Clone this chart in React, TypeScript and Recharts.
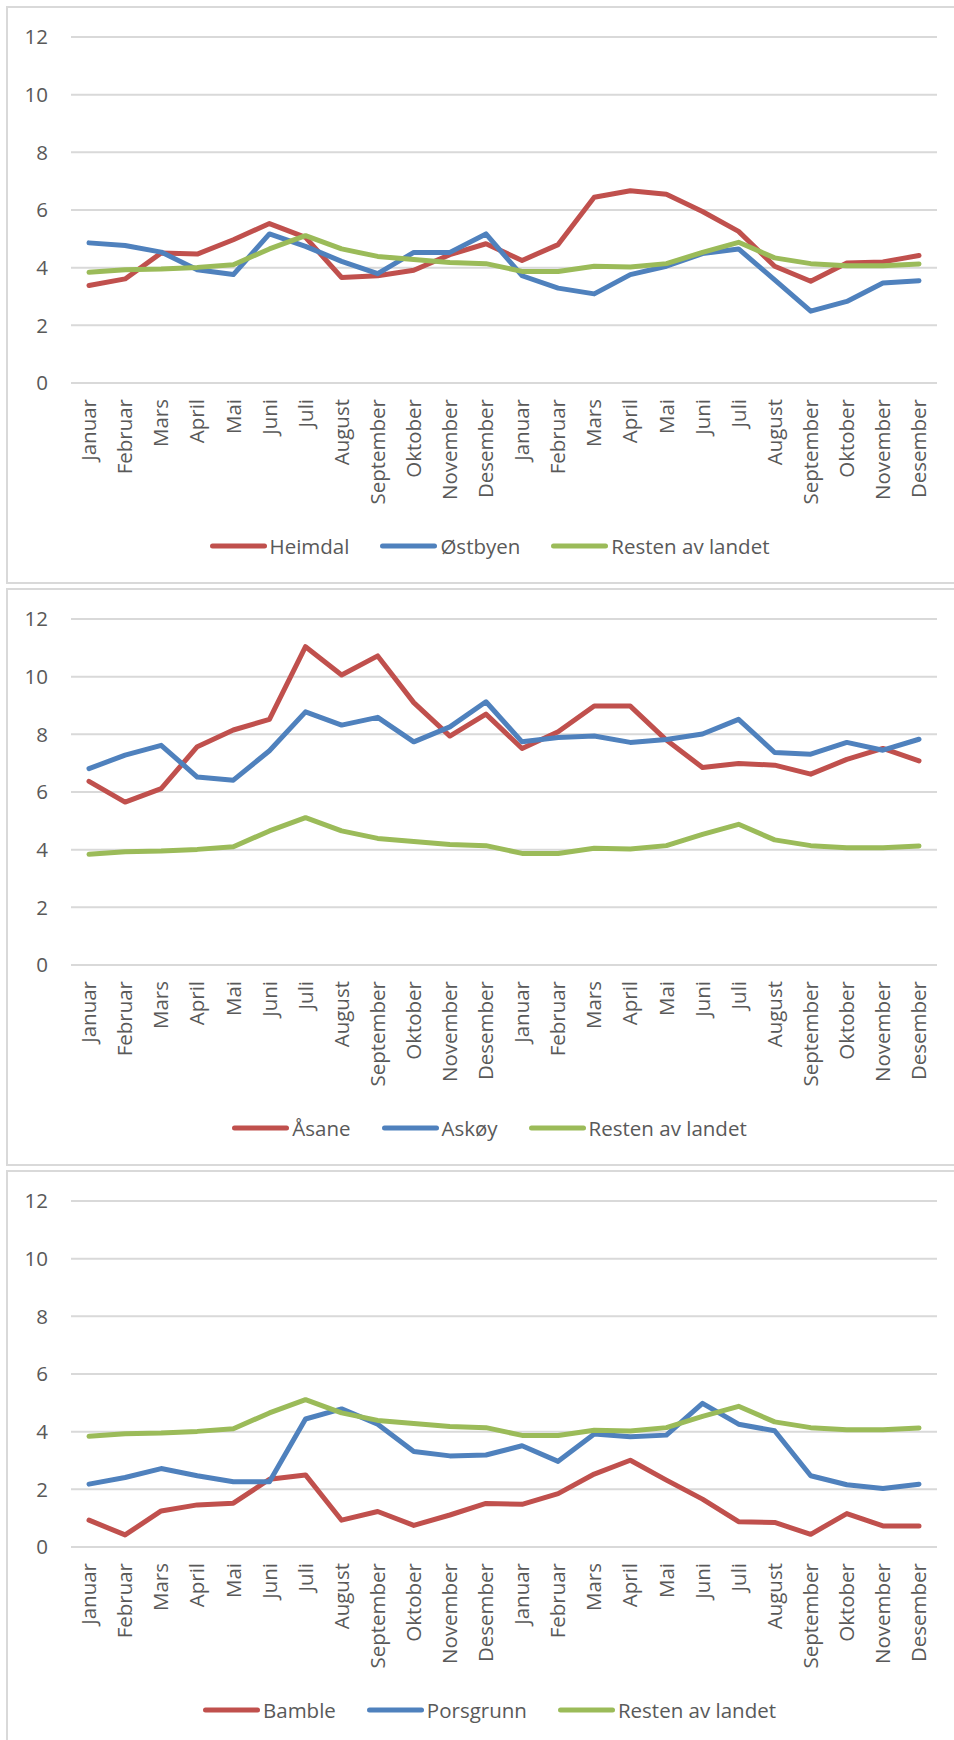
import { LineChart, Line, XAxis, YAxis, CartesianGrid } from "recharts";

const MONTHS = ["Januar", "Februar", "Mars", "April", "Mai", "Juni", "Juli", "August", "September", "Oktober", "November", "Desember"];
const CATEGORIES = [...MONTHS, ...MONTHS];
const Y_TICKS = [0, 2, 4, 6, 8, 10, 12];

const RESTEN = [3.84, 3.93, 3.95, 4.01, 4.1, 4.65, 5.11, 4.65, 4.39, 4.28, 4.18, 4.14, 3.87, 3.87, 4.05, 4.02, 4.14, 4.53, 4.88, 4.34, 4.14, 4.07, 4.07, 4.13];
const HEIMDAL = [3.38, 3.61, 4.51, 4.47, 4.97, 5.53, 5.05, 3.66, 3.72, 3.91, 4.45, 4.83, 4.25, 4.8, 6.44, 6.67, 6.55, 5.95, 5.26, 4.05, 3.53, 4.16, 4.2, 4.42];
const OSTBYEN = [4.86, 4.77, 4.54, 3.93, 3.76, 5.17, 4.74, 4.22, 3.79, 4.53, 4.53, 5.17, 3.72, 3.29, 3.09, 3.76, 4.05, 4.49, 4.65, 3.58, 2.49, 2.83, 3.47, 3.55];
const ASANE = [6.37, 5.65, 6.12, 7.57, 8.15, 8.52, 11.04, 10.06, 10.72, 9.1, 7.94, 8.7, 7.51, 8.09, 8.98, 8.98, 7.8, 6.85, 6.99, 6.93, 6.62, 7.13, 7.51, 7.08];
const ASKOY = [6.81, 7.28, 7.62, 6.52, 6.41, 7.43, 8.78, 8.32, 8.59, 7.74, 8.26, 9.13, 7.74, 7.89, 7.94, 7.72, 7.82, 8.01, 8.52, 7.37, 7.31, 7.72, 7.45, 7.83];
const BAMBLE = [0.93, 0.42, 1.25, 1.46, 1.52, 2.35, 2.5, 0.93, 1.23, 0.75, 1.11, 1.51, 1.48, 1.85, 2.53, 3.01, 2.32, 1.66, 0.88, 0.85, 0.44, 1.16, 0.73, 0.73];
const PORSGRUNN = [2.18, 2.41, 2.72, 2.47, 2.26, 2.26, 4.44, 4.79, 4.26, 3.31, 3.16, 3.19, 3.51, 2.97, 3.92, 3.82, 3.88, 4.98, 4.26, 4.03, 2.47, 2.16, 2.03, 2.18];

const RED = "#c0504d";
const BLUE = "#4f81bd";
const GREEN = "#9bbb59";
const TEXT = "#595959";
const GRID = "#d9d9d9";
const FONT = "'Open Sans', sans-serif";

const PANELS = [
  { top: 7, a: "Heimdal", aValues: HEIMDAL, b: "Østbyen", bValues: OSTBYEN },
  { top: 589, a: "Åsane", aValues: ASANE, b: "Askøy", bValues: ASKOY },
  { top: 1171, a: "Bamble", aValues: BAMBLE, b: "Porsgrunn", bValues: PORSGRUNN },
];

function MonthTick({ x, y, payload }: any) {
  return (
    <g transform={`translate(${x},${y + 16})`}>
      <text transform="rotate(-90)" textAnchor="end" dy="0.35em" fill={TEXT} fontSize={20.5} fontFamily={FONT}>
        {payload.value}
      </text>
    </g>
  );
}

function LegendItem({ color, label }: { color: string; label: string }) {
  return (
    <div style={{ display: "flex", alignItems: "center" }}>
      <svg width={57} height={8}>
        <line x1={2.5} x2={54.5} y1={4} y2={4} stroke={color} strokeWidth={5} strokeLinecap="round" />
      </svg>
      <span style={{ marginLeft: 3 }}>{label}</span>
    </div>
  );
}

function Panel({ top, a, aValues, b, bValues }: any) {
  const data = CATEGORIES.map((month, i) => ({ month, a: aValues[i], b: bValues[i], rest: RESTEN[i] }));
  return (
    <>
      <div
        style={{
          position: "absolute", left: 6, top: top - 1, width: 948, height: 578,
          boxSizing: "border-box", border: `2px solid ${GRID}`, borderRight: "none",
        }}
      />
      <div style={{ position: "absolute", left: 7, top }}>
        <LineChart width={947} height={576} data={data} margin={{ top: 30, right: 17, bottom: 40, left: 0 }}>
          <CartesianGrid vertical={false} stroke={GRID} strokeWidth={2} />
          <XAxis
            dataKey="month" interval={0} height={160} axisLine={false} tickLine={false}
            tickSize={0} tickMargin={0} padding={{ left: 18, right: 18 }} tick={<MonthTick />}
          />
          <YAxis
            domain={[0, 12]} ticks={Y_TICKS} width={64} axisLine={false} tickLine={false}
            tickSize={0} tickMargin={23} tick={{ fill: TEXT, fontSize: 20.5, fontFamily: FONT }}
          />
          <Line dataKey="a" stroke={RED} strokeWidth={5} dot={false} isAnimationActive={false} strokeLinejoin="round" strokeLinecap="round" />
          <Line dataKey="b" stroke={BLUE} strokeWidth={5} dot={false} isAnimationActive={false} strokeLinejoin="round" strokeLinecap="round" />
          <Line dataKey="rest" stroke={GREEN} strokeWidth={5} dot={false} isAnimationActive={false} strokeLinejoin="round" strokeLinecap="round" />
        </LineChart>
      </div>
      <div
        style={{
          position: "absolute", left: 25, width: 929, top: top + 525, height: 28,
          display: "flex", justifyContent: "center", alignItems: "center", gap: 31,
          fontFamily: FONT, fontSize: 20.5, color: TEXT, lineHeight: "28px",
        }}
      >
        <LegendItem color={RED} label={a} />
        <LegendItem color={BLUE} label={b} />
        <LegendItem color={GREEN} label="Resten av landet" />
      </div>
    </>
  );
}

export default function App() {
  return (
    <div style={{ position: "absolute", left: 0, top: 0, width: 954, height: 1740, overflow: "hidden", background: "#fff" }}>
      {PANELS.map((p) => (
        <Panel key={p.a} {...p} />
      ))}
    </div>
  );
}
